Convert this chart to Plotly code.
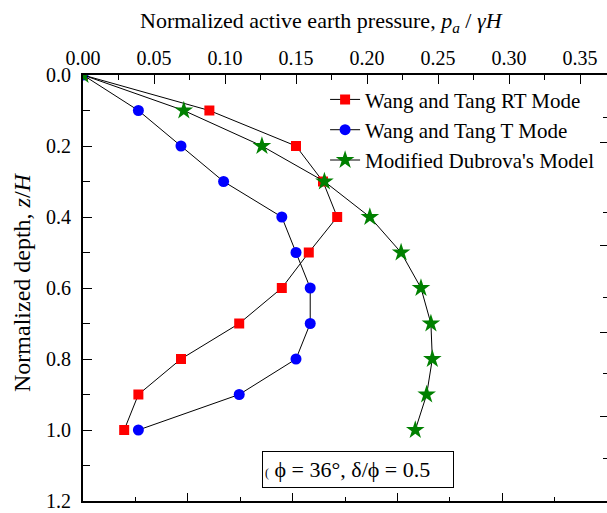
import plotly.graph_objects as go

depth = [0.0, 0.1, 0.2, 0.3, 0.4, 0.5, 0.6, 0.7, 0.8, 0.9, 1.0]
rt_mode = [0.0, 0.089, 0.150, 0.169, 0.179, 0.159, 0.140, 0.110, 0.069, 0.039, 0.029]
t_mode = [0.0, 0.039, 0.069, 0.099, 0.140, 0.150, 0.160, 0.160, 0.150, 0.110, 0.039]
dubrova = [0.0, 0.071, 0.126, 0.170, 0.202, 0.224, 0.238, 0.245, 0.246, 0.242, 0.234]

names = ["Wang and Tang RT Mode", "Wang and Tang T Mode", "Modified Dubrova's Model"]
x_ticks = [0.00, 0.05, 0.10, 0.15, 0.20, 0.25, 0.30, 0.35]
y_ticks = [0.0, 0.2, 0.4, 0.6, 0.8, 1.0, 1.2]
# stray right-hand ticks of the original figure (second layer)
right_major = [0.189, 0.479, 0.724, 0.963]
right_minor = [0.121, 0.386, 0.628, 0.842, 1.079]

FONT = "Liberation Serif"

fig = go.Figure()
fig.add_trace(go.Scatter(x=rt_mode, y=depth, name=names[0], mode="lines+markers",
                         line=dict(color="black", width=1),
                         marker=dict(symbol="square", size=10, color="#ff0000")))
fig.add_trace(go.Scatter(x=t_mode, y=depth, name=names[1], mode="lines+markers",
                         line=dict(color="black", width=1),
                         marker=dict(symbol="circle", size=11, color="#0000ff")))
fig.add_trace(go.Scatter(x=dubrova, y=depth, name=names[2], mode="lines+markers",
                         line=dict(color="black", width=1),
                         marker=dict(symbol="star", size=14, color="#008000")))
fig.add_trace(go.Scatter(x=[], y=[], xaxis="x2", yaxis="y2", showlegend=False, hoverinfo="skip"))

fig.update_layout(
    width=607, height=513,
    margin=dict(l=83, r=0, t=75, b=12),
    paper_bgcolor="white", plot_bgcolor="white",
    font=dict(family=FONT, size=20, color="black"),
    showlegend=True,
    legend=dict(x=0.462, y=0.990, xanchor="left", yanchor="top",
                bgcolor="rgba(0,0,0,0)", font=dict(size=21, family=FONT),
                tracegroupgap=0, itemwidth=30),
    xaxis=dict(side="top", range=[0, 0.369], tickvals=x_ticks, tickformat=".2f",
               ticks="inside", ticklen=9, tickwidth=1.3, tickcolor="black",
               minor=dict(dtick=0.025, tick0=0, ticks="inside", ticklen=5, tickwidth=1.3, tickcolor="black"),
               showline=True, linecolor="black", linewidth=1.8, showgrid=False, zeroline=False,
               tickfont=dict(size=20, family=FONT)),
    yaxis=dict(range=[1.2, 0], tickvals=y_ticks, tickformat=".1f",
               ticks="inside", ticklen=9, tickwidth=1.3, tickcolor="black",
               minor=dict(dtick=0.1, tick0=0, ticks="inside", ticklen=7, tickwidth=1.3, tickcolor="black"),
               showline=True, linecolor="black", linewidth=1.8, showgrid=False, zeroline=False,
               tickfont=dict(size=20, family=FONT), ticklabelstandoff=6),
    xaxis2=dict(overlaying="x", side="bottom", anchor="y", range=[0, 5], dtick=1, tick0=0,
                showticklabels=False, ticks="inside", ticklen=8, tickwidth=1.3, tickcolor="black",
                minor=dict(dtick=0.5, tick0=0, ticks="inside", ticklen=4, tickwidth=1.3, tickcolor="black"),
                showline=True, linecolor="black", linewidth=1.8, showgrid=False, zeroline=False),
    yaxis2=dict(overlaying="y", side="right", anchor="x", range=[1.2, 0],
                tickvals=right_major, showticklabels=False, ticks="inside", ticklen=7,
                tickwidth=1.3, tickcolor="black",
                minor=dict(tickvals=right_minor, ticks="inside", ticklen=4, tickwidth=1.3, tickcolor="black"),
                showline=False, showgrid=False, zeroline=False),
)

# axis titles
fig.add_annotation(
    xref="paper", yref="paper", x=(321 - 83) / 524, y=1 + (75 - 22) / 426,
    xanchor="center", yanchor="middle", showarrow=False,
    text="Normalized active earth pressure, <i>p<sub>a</sub></i> / <i>γH</i>",
    font=dict(size=22, family=FONT, color="black"),
)
fig.add_annotation(
    xref="paper", yref="paper", x=(22 - 83) / 524, y=1 - (282 - 75) / 426,
    xanchor="center", yanchor="middle", showarrow=False, textangle=-90,
    text="Normalized depth, <i>z</i>/<i>H</i>",
    font=dict(size=24, family=FONT, color="black"),
)

fig.add_annotation(
    xref="paper", yref="paper", x=(357.5 - 83) / 524, y=1 - (469.5 - 75) / 426,
    xanchor="center", yanchor="middle",
    text="<span style='font-size:12px'>(</span> ϕ = 36°, δ/ϕ = 0.5",
    showarrow=False, font=dict(size=22, family=FONT, color="black"),
    align="left", width=186, height=31,
    bordercolor="black", borderwidth=1, borderpad=2, bgcolor="white",
)

fig.write_html("out.html")
